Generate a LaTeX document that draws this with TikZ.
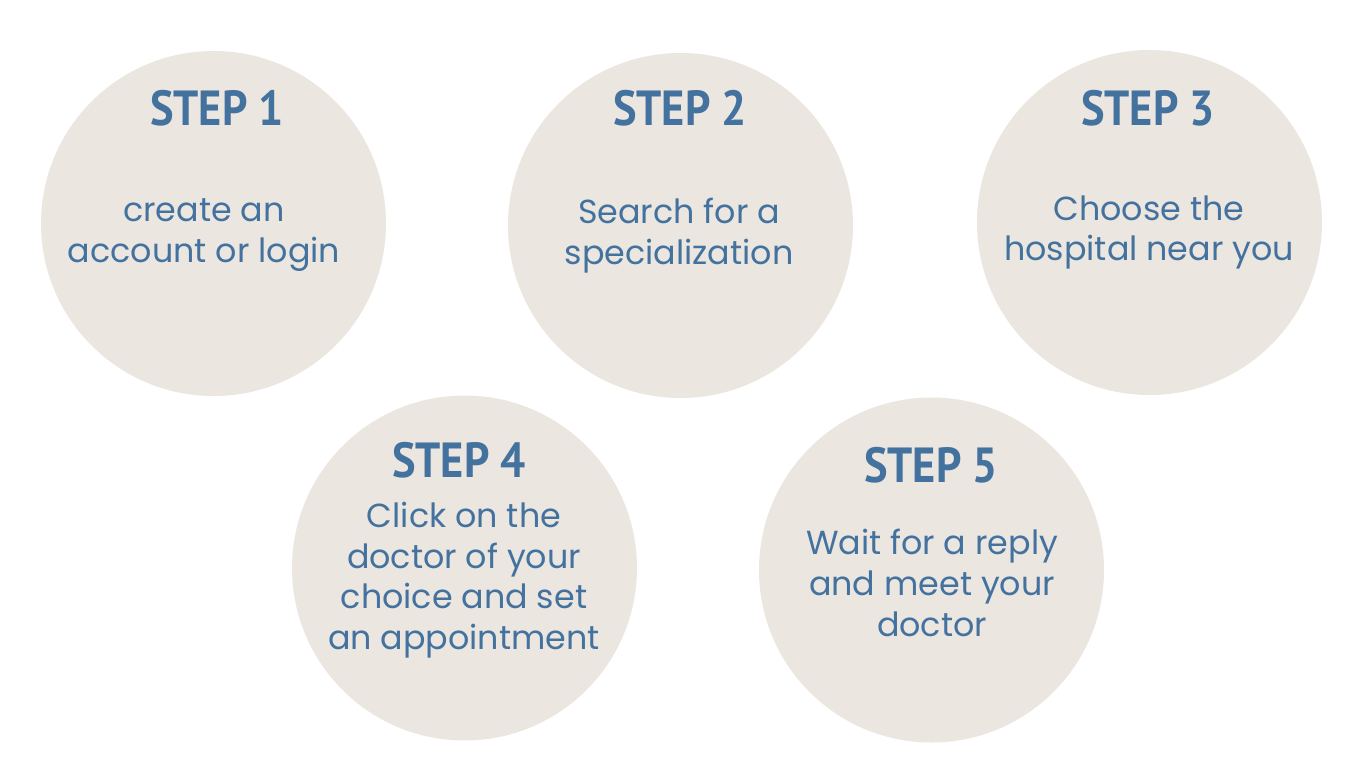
\documentclass[tikz,border=0pt]{standalone}
\usepackage{fontspec}
\setmainfont{Poppins}
\newfontfamily\stepfont{PT Sans}
\definecolor{stepfill}{HTML}{EBE6E0}
\definecolor{stepblue}{HTML}{44729F}

\begin{document}
\begin{tikzpicture}[x=0.75pt,y=-0.75pt]
\tikzset{disc/.style={circle, fill=stepfill, draw=none, minimum size=258.75pt, inner sep=0pt},
  steptitle/.style={text=stepblue, font=\stepfont\bfseries\fontsize{37}{40}\selectfont, xscale=0.9},
  stepbody/.style={text=stepblue, align=center, font=\fontsize{25}{30.5}\selectfont}}
\useasboundingbox (0,0) rectangle (1366,768);

% top row
\node[disc] (c1) at (213.5,223.5) {};
\node[disc] (c2) at (680.5,225.5) {};
\node[disc] (c3) at (1149.5,222.5) {};

% bottom row
\node[disc] (c4) at (464.5,568) {};
\node[disc] (c5) at (931.5,570) {};

% titles
\node[steptitle] (t1) at (217,108) {STEP 1};
\node[steptitle] (t2) at (680,108) {STEP 2};
\node[steptitle] (t3) at (1148,108) {STEP 3};
\node[steptitle] (t4) at (459,460) {STEP 4};
\node[steptitle] (t5) at (931,465) {STEP 5};

% what to do in each step
\node[stepbody] (b1) at (204,235) {create an\\account or login};
\node[stepbody] (b2) at (679,235.5) {Search for a\\specialization};
\node[stepbody] (b3) at (1149,232.5) {Choose the\\hospital near you};
\node[stepbody] (b4) at (464,580) {Click on the\\doctor of your\\choice and set\\an appointment};
\node[stepbody] (b5) at (932,583) {Wait for a reply\\and meet your\\doctor};

\end{tikzpicture}
\end{document}
